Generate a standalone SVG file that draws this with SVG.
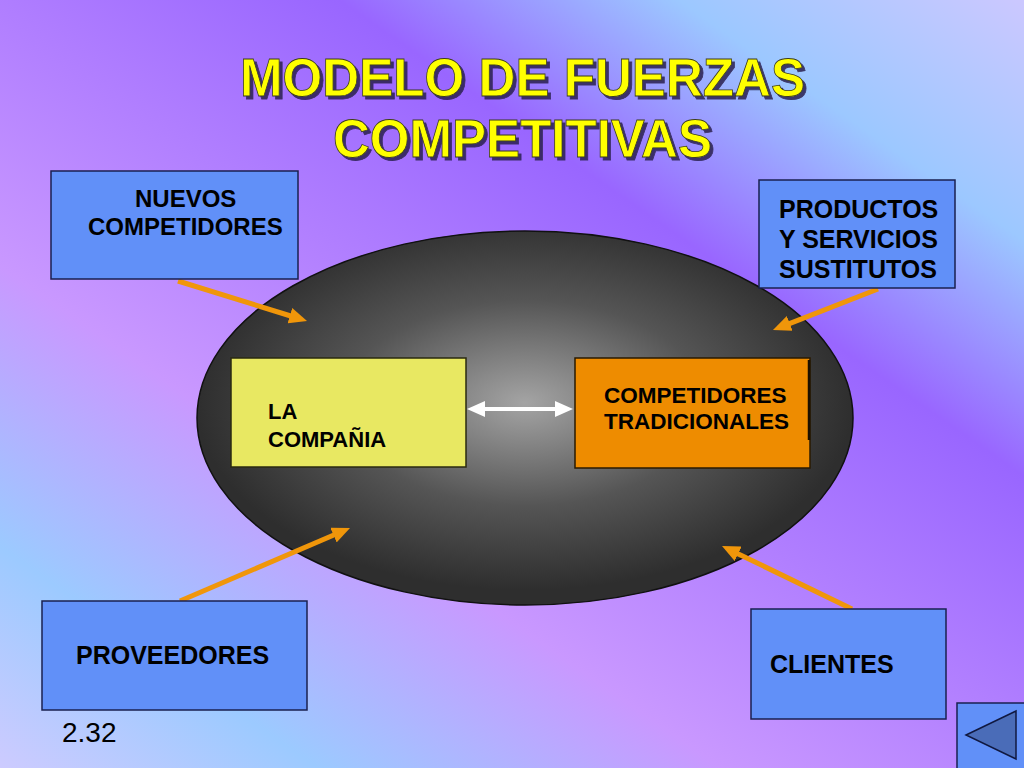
<svg xmlns="http://www.w3.org/2000/svg" width="1024" height="768" viewBox="0 0 1024 768">
  <defs>
    <linearGradient id="bg" gradientUnits="userSpaceOnUse" x1="0" y1="768" x2="692" y2="-227">
      <stop offset="0" stop-color="#cdcbff"/>
      <stop offset="0.15" stop-color="#9ccaff"/>
      <stop offset="0.34" stop-color="#c998ff"/>
      <stop offset="0.68" stop-color="#9966ff"/>
      <stop offset="0.84" stop-color="#9cc8ff"/>
      <stop offset="1" stop-color="#cbc8ff"/>
    </linearGradient>
    <radialGradient id="ellGrad" cx="0.5" cy="0.46" r="0.5">
      <stop offset="0" stop-color="#a4a4a4"/>
      <stop offset="0.55" stop-color="#555555"/>
      <stop offset="1" stop-color="#2e2e2e"/>
    </radialGradient>
    <filter id="titleShadow" x="-5%" y="-20%" width="110%" height="140%">
      <feDropShadow dx="3" dy="3" stdDeviation="0.6" flood-color="#2a2050" flood-opacity="0.85"/>
    </filter>
    <marker id="orangeHead" viewBox="0 0 18 16" refX="1" refY="8" markerWidth="18" markerHeight="16" markerUnits="userSpaceOnUse" orient="auto">
      <path d="M0,0 L18,8 L0,16 z" fill="#f0960a"/>
    </marker>
    <marker id="whiteHead" viewBox="0 0 18 16" refX="1" refY="8" markerWidth="18" markerHeight="16" markerUnits="userSpaceOnUse" orient="auto-start-reverse">
      <path d="M0,0 L18,8 L0,16 z" fill="#ffffff"/>
    </marker>
  </defs>
  <style>
    .box { fill: #6190f8; stroke: #1a2050; stroke-width: 1.5; }
    .lbl { font-family: "Liberation Sans", Arial, sans-serif; font-weight: bold; fill: #000000; }
    .title { font-family: "Liberation Sans", Arial, sans-serif; font-weight: bold; font-size: 53px; fill: #ffff00; stroke: #3a3a20; stroke-width: 0.8; }
    .force { stroke: #f0960a; stroke-width: 5; fill: none; marker-end: url(#orangeHead); }
  </style>

  <rect x="0" y="0" width="1024" height="768" fill="url(#bg)"/>

  <g id="title" filter="url(#titleShadow)">
    <text class="title" x="240" y="96" textLength="565" lengthAdjust="spacingAndGlyphs">MODELO DE FUERZAS</text>
    <text class="title" x="333" y="157" textLength="379" lengthAdjust="spacingAndGlyphs">COMPETITIVAS</text>
  </g>

  <g id="mercado">
    <ellipse cx="525" cy="418" rx="328" ry="187" fill="url(#ellGrad)" stroke="#111111" stroke-width="1.5"/>
  </g>

  <g id="connectors">
    <line class="force" x1="178" y1="281" x2="290.8" y2="316"/>
    <line class="force" x1="878" y1="289" x2="788.8" y2="323.8"/>
    <line class="force" x1="180" y1="601" x2="334.4" y2="534.7"/>
    <line class="force" x1="852" y1="609" x2="737.3" y2="553.4"/>
    <line x1="484" y1="409" x2="556" y2="409" stroke="#ffffff" stroke-width="4" marker-start="url(#whiteHead)" marker-end="url(#whiteHead)"/>
  </g>

  <g id="nuevos-competidores">
    <rect class="box" x="51" y="171" width="247" height="108"/>
    <text class="lbl" font-size="24" x="135" y="207">NUEVOS</text>
    <text class="lbl" font-size="24" x="88" y="235">COMPETIDORES</text>
  </g>

  <g id="sustitutos">
    <rect class="box" x="759" y="180" width="196" height="108"/>
    <text class="lbl" font-size="25" x="779" y="218">PRODUCTOS</text>
    <text class="lbl" font-size="25" x="779" y="248">Y SERVICIOS</text>
    <text class="lbl" font-size="25" x="779" y="278">SUSTITUTOS</text>
  </g>

  <g id="la-compania">
    <rect x="231" y="358" width="235" height="109" fill="#e8e862" stroke="#2a2a10" stroke-width="1.5"/>
    <text class="lbl" font-size="22" x="268" y="419">LA</text>
    <text class="lbl" font-size="22" x="268" y="447">COMPAÑIA</text>
  </g>

  <g id="competidores-tradicionales">
    <rect x="575" y="358" width="235" height="110" fill="#ee8c00" stroke="#2a1a00" stroke-width="1.5"/>
    <line x1="809" y1="360" x2="809" y2="440" stroke="#1a1000" stroke-width="2.5"/>
    <text class="lbl" font-size="22.5" x="604" y="403">COMPETIDORES</text>
    <text class="lbl" font-size="22.5" x="604" y="429">TRADICIONALES</text>
  </g>

  <g id="proveedores">
    <rect class="box" x="42" y="601" width="265" height="109"/>
    <text class="lbl" font-size="25" x="76" y="664">PROVEEDORES</text>
  </g>

  <g id="clientes">
    <rect class="box" x="751" y="609" width="195" height="110"/>
    <text class="lbl" font-size="25" x="770" y="673">CLIENTES</text>
  </g>

  <g id="numero">
    <text x="62" y="742" font-family="Liberation Sans, Arial, sans-serif" font-size="28" fill="#000000">2.32</text>
  </g>

  <g id="boton-atras">
    <rect class="box" x="957" y="703" width="80" height="80"/>
    <polygon points="966,735 1016,711 1016,759" fill="#4a6cb8" stroke="#101840" stroke-width="1.5"/>
  </g>
</svg>
